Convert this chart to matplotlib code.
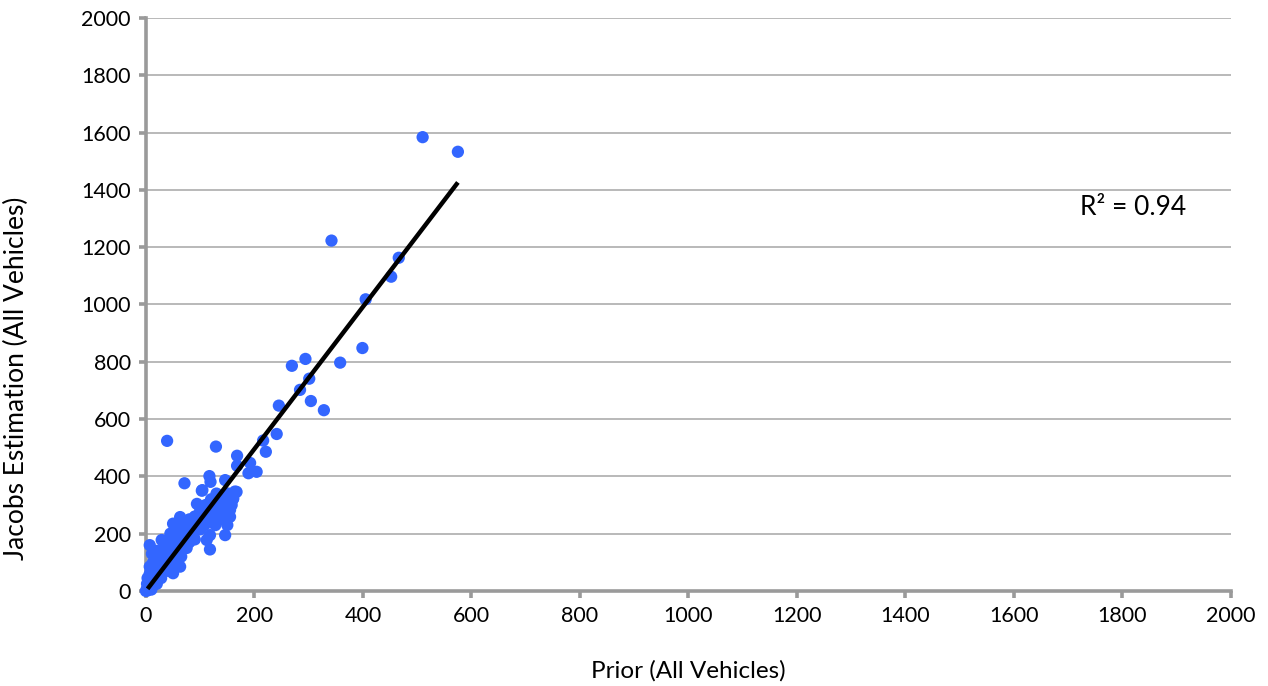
import numpy as np
import matplotlib.pyplot as plt

plt.rcParams['font.family'] = ['Lato', 'DejaVu Sans']

# values (Prior, Jacobs Estimation)
prior = [0, 1, 2, 3, 4, 5, 2, 6, 3, 8, 10, 12, 7, 5, 9, 15, 14, 18, 20, 22,
         16, 13, 11, 7, 7, 18, 25, 28, 30, 24, 20, 26, 30, 35, 33, 29, 38, 40,
         42, 45, 48, 50, 52, 55, 40, 45, 50, 55, 58, 60, 63, 65, 62, 63, 68,
         70, 72, 75, 78, 80, 82, 85, 88, 90, 94, 95, 98, 100, 103, 105, 108,
         110, 112, 115, 118, 118, 120, 122, 125, 128, 130, 132, 135, 138, 140,
         142, 146, 146, 148, 150, 152, 155, 155, 158, 160, 161, 164, 167, 117,
         119, 146, 104, 71, 39, 129, 168, 189, 204, 192, 168,
         216, 221, 241, 245, 269, 284, 294, 301, 304, 328, 342, 358, 399, 405,
         452, 466, 510, 575,
         110, 125, 140, 100, 135, 150, 90, 80]
jacobs = [0, 3, 8, 2, 15, 10, 25, 30, 45, 20, 5, 18, 60, 40, 70, 30, 50, 40,
          25, 55, 80, 100, 130, 85, 160, 120, 60, 45, 75, 95, 140, 130, 110,
          90, 150, 178, 120, 100, 70, 140, 110, 62, 90, 130, 175, 200, 235,
          180, 160, 140, 85, 120, 210, 258, 190, 230, 170, 150, 210, 250, 190,
          230, 200, 260, 304, 240, 220, 280, 350, 260, 230, 300, 178, 270, 145,
          195, 320, 250, 290, 230, 340, 310, 270, 300, 330, 250, 195, 280, 310,
          230, 340, 259, 283, 300, 320, 323, 347, 346, 401, 381, 387, 352, 376,
          524, 504, 472, 411, 416, 447, 437,
          525, 486, 548, 647, 786, 702, 810, 741, 663, 631, 1223, 797, 848,
          1018, 1097, 1163, 1584, 1533,
          250, 270, 290, 215, 320, 310, 180, 170]

# linear trend
slope = 2.48
intercept = 0.0
r2_text = 'R² = 0.94'

fig = plt.figure(figsize=(12.68, 6.86), dpi=100)
ax = fig.add_axes([0.1151, 0.1385, 0.8557, 0.8353])

ax.scatter(prior, jacobs, s=78, color='#3366FF', edgecolors='none',
           zorder=3, clip_on=False)

xs = np.array([min(prior) + 3, max(prior)])
ax.plot(xs, slope * xs + intercept, color='black', lw=3.2, zorder=4,
        solid_capstyle='butt')

ax.set_xlim(0, 2000)
ax.set_ylim(0, 2000)
ax.set_xticks(np.arange(0, 2001, 200))
ax.set_yticks(np.arange(0, 2001, 200))
ax.yaxis.grid(True, color='#b3b3b3', lw=1.3)
ax.set_axisbelow(True)

for s in ['top', 'right']:
    ax.spines[s].set_visible(False)
for s in ['left', 'bottom']:
    ax.spines[s].set_color('#9a9a9a')
    ax.spines[s].set_linewidth(2.6)
ax.tick_params(direction='out', length=5, width=2.6, color='#9a9a9a',
               labelsize=15.5, pad=6)

ax.set_xlabel('Prior (All Vehicles)', fontsize=17.5, labelpad=24)
ax.set_ylabel('Jacobs Estimation (All Vehicles)', fontsize=19)
ax.yaxis.set_label_coords(-0.108, 0.372)

ax.text(1722, 1337, r2_text, fontsize=19, va='center', ha='left')

fig.savefig('out.png', dpi=100)
